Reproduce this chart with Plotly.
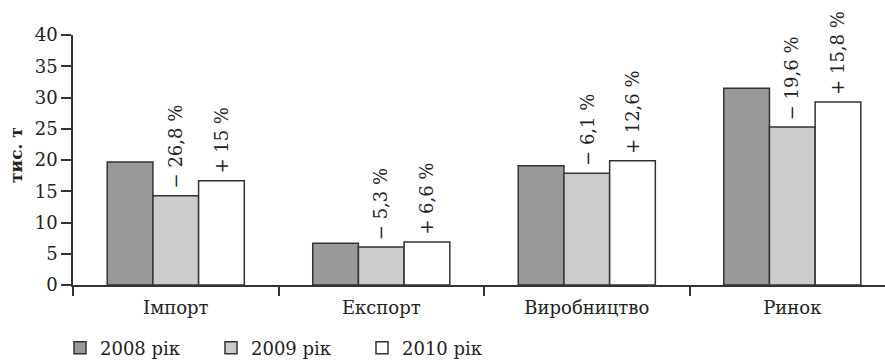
import plotly.graph_objects as go

categories = ["Імпорт", "Експорт", "Виробництво", "Ринок"]
years = ["2008 рік", "2009 рік", "2010 рік"]
v2008 = [19.7, 6.7, 19.1, 31.5]
v2009 = [14.3, 6.1, 17.9, 25.3]
v2010 = [16.7, 6.9, 19.9, 29.3]
labels2009 = ["− 26,8 %", "− 5,3 %", "− 6,1 %", "− 19,6 %"]
labels2010 = ["+ 15 %", "+ 6,6 %", "+ 12,6 %", "+ 15,8 %"]
y_ticks = [0, 5, 10, 15, 20, 25, 30, 35, 40]

FONT = "DejaVu Serif"
colors = ["#999999", "#cccccc", "#ffffff"]
series = [v2008, v2009, v2010]

fig = go.Figure()
for name, vals, col in zip(years, series, colors):
    fig.add_trace(go.Bar(
        x=categories, y=vals, name=name,
        marker=dict(color=col, line=dict(color="#333333", width=1.5)),
    ))

W, H = 885, 362
L, R, T, B = 73, 0, 35, 77
plot_w = W - L - R
plot_h = H - T - B

bw = (1 - 0.333) / 3
annotations = []
for i, cat in enumerate(categories):
    for off, val, txt in [(0.0, v2009[i], labels2009[i]), (bw, v2010[i], labels2010[i])]:
        annotations.append(dict(
            x=i + off, y=val, xref="x", yref="y", text=txt, textangle=-90,
            showarrow=False, xanchor="center", yanchor="bottom", yshift=5,
            font=dict(family=FONT, size=18, color="#222222"),
        ))

annotations.append(dict(
    x=(16 - L) / plot_w, y=0.52, xref="paper", yref="paper", text="<b>тис. т</b>",
    textangle=-90, showarrow=False, xanchor="center", yanchor="middle",
    font=dict(family=FONT, size=17, color="#222222"),
))

fig.update_layout(
    width=W, height=H,
    margin=dict(l=L, r=R, t=T, b=B, pad=0, autoexpand=False),
    paper_bgcolor="white", plot_bgcolor="white",
    barmode="group", bargap=0.333, bargroupgap=0,
    font=dict(family=FONT, size=18, color="#222222"),
    showlegend=True,
    legend=dict(
        orientation="h", x=(60 - L) / plot_w, xanchor="left",
        y=-63 / plot_h, yanchor="middle",
        font=dict(family=FONT, size=18, color="#222222"),
        entrywidth=106, entrywidthmode="pixels",
        traceorder="normal", bgcolor="rgba(0,0,0,0)",
    ),
    annotations=annotations,
)
fig.update_xaxes(
    type="category", range=[-0.5, 3.451],
    showline=True, linecolor="#333333", linewidth=1.5,
    ticks="outside", tickson="boundaries", ticklen=9, tickcolor="#333333", tickwidth=1.5,
    ticklabelstandoff=6,
    showgrid=False, zeroline=False,
    tickfont=dict(family=FONT, size=18, color="#222222"),
)
fig.update_yaxes(
    range=[0, 40], tickvals=y_ticks,
    showline=True, linecolor="#333333", linewidth=1.5,
    ticks="outside", ticklen=10, tickcolor="#333333", tickwidth=1.5,
    showgrid=False, zeroline=False,
    tickfont=dict(family=FONT, size=18, color="#222222"),
)

fig.write_html("out.html")
